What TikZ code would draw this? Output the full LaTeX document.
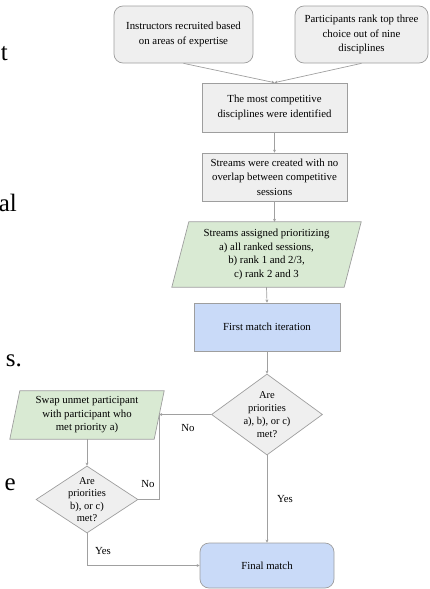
\documentclass[tikz,border=0pt]{standalone}
\usepackage{fontspec}
\setmainfont{Liberation Serif}
\usetikzlibrary{shapes.geometric,arrows.meta,backgrounds}
\definecolor{boxgray}{HTML}{EFEFEF}
\definecolor{boxgreen}{HTML}{D9EAD3}
\definecolor{boxblue}{HTML}{C9DAF8}
\definecolor{edgegray}{HTML}{9E9E9E}
\definecolor{linegray}{HTML}{A0A0A0}
\begin{document}
\begin{tikzpicture}[x=1pt,y=-1pt,
 base/.style={align=center, inner sep=0pt, font=\fontsize{10.8}{14.5}\selectfont},
 rbox/.style={base, draw=edgegray, line width=0.7pt, fill=boxgray, rounded corners=9pt},
 gbox/.style={base, draw=edgegray, line width=0.7pt, fill=boxgray},
 bbox/.style={base, draw=edgegray, line width=0.7pt, fill=boxblue},
 pnode/.style={base, font=\fontsize{10.8}{13.5}\selectfont},
 pgram/.style={draw=edgegray, line width=0.7pt, fill=boxgreen},
 dia/.style={diamond, draw=edgegray, line width=0.7pt, fill=boxgray, inner sep=0pt},
 dtext/.style={base, font=\fontsize{10.5}{13}\selectfont},
 conn/.style={draw=linegray, line width=0.7pt},
 arr/.style={conn, -{Stealth[length=3pt,width=3pt]}},
 lab/.style={font=\fontsize{10.8}{13}\selectfont, inner sep=0pt},
 frag/.style={font=\fontsize{25}{30}\selectfont, inner sep=0pt, anchor=base east}
]
\useasboundingbox (0,0) rectangle (429,589);

% text of the neighbouring page, at the left edge
\node[frag] (f1) at (8,60) {t};
\node[frag] (f2) at (17,211) {al};
\node[frag] (f3) at (22,366) {s.};
\node[frag] (f4) at (16,490) {e};

% nodes
\node[rbox, minimum width=139pt, minimum height=57pt] (ins) at (183.5,34.5) {Instructors recruited based\\on areas of expertise};
\node[rbox, minimum width=133pt, minimum height=57pt] (par) at (361.5,34.5) {Participants rank top three\\choice out of nine\\disciplines};
\node[gbox, minimum width=145pt, minimum height=49pt] (comp) at (274.5,107.5) {The most competitive\\disciplines were identified};
\node[gbox, minimum width=145pt, minimum height=48pt] (str) at (274.5,177) {Streams were created with no\\overlap between competitive\\sessions};
\node[pnode, minimum width=189pt, minimum height=65pt] (asg) at (266.5,254.5) {Streams assigned prioritizing\\a) all ranked sessions,\\b) rank 1 and 2/3,\\c) rank 2 and 3};
\node[bbox, minimum width=146pt, minimum height=48pt] (first) at (267,327) {First match iteration};
\node[dia, minimum width=111pt, minimum height=81pt] (d1) at (267,414.5) {};
\node[dtext] (d1t) at (d1) {Are\\priorities\\a), b), or c)\\met?};
\node[pnode, minimum width=154pt, minimum height=48pt] (swap) at (87,415) {Swap unmet participant\\with participant who\\met priority a)};
\node[dia, minimum width=102pt, minimum height=67pt] (d2) at (87,499.5) {};
\node[dtext, font=\fontsize{10.5}{12.5}\selectfont] (d2t) at (d2) {Are\\priorities\\b), or c)\\met?};
\node[bbox, rounded corners=9pt, minimum width=134pt, minimum height=45pt] (fin) at (267,565.5) {Final match};

\begin{scope}[on background layer]
\draw[pgram] ([xshift=17pt]asg.north west) -- (asg.north east) -- ([xshift=-17pt]asg.south east) -- (asg.south west) -- cycle;
\draw[pgram] ([xshift=10pt]swap.north west) -- (swap.north east) -- ([xshift=-10pt]swap.south east) -- (swap.south west) -- cycle;
\end{scope}

% connectors
\coordinate (jn) at ([xshift=-5pt]swap.east);
\draw[arr] (ins.south) -- (comp.north);
\draw[arr] (par.south) -- (comp.north);
\draw[arr] (comp.south) -- (str.north);
\draw[arr] (str.south) -- (str.south |- asg.north);
\draw[arr] (asg.south) -- (first.north);
\draw[arr] (first.south) -- (d1.north);
\draw[arr] (d1.west) -- (d1.west -| jn);
\draw[conn] (d2.east) -| (d1.west -| jn);
\draw[arr] (swap.south) -- (d2.north);
\draw[arr] (d2.south) |- (fin.west);
\draw[arr] (d1.south) -- (fin.north);

% labels
\node[lab] (no1) at (188,428) {No};
\node[lab] (no2) at (148,484) {No};
\node[lab] (yes1) at (285,499) {Yes};
\node[lab] (yes2) at (103,551) {Yes};
\end{tikzpicture}
\end{document}
